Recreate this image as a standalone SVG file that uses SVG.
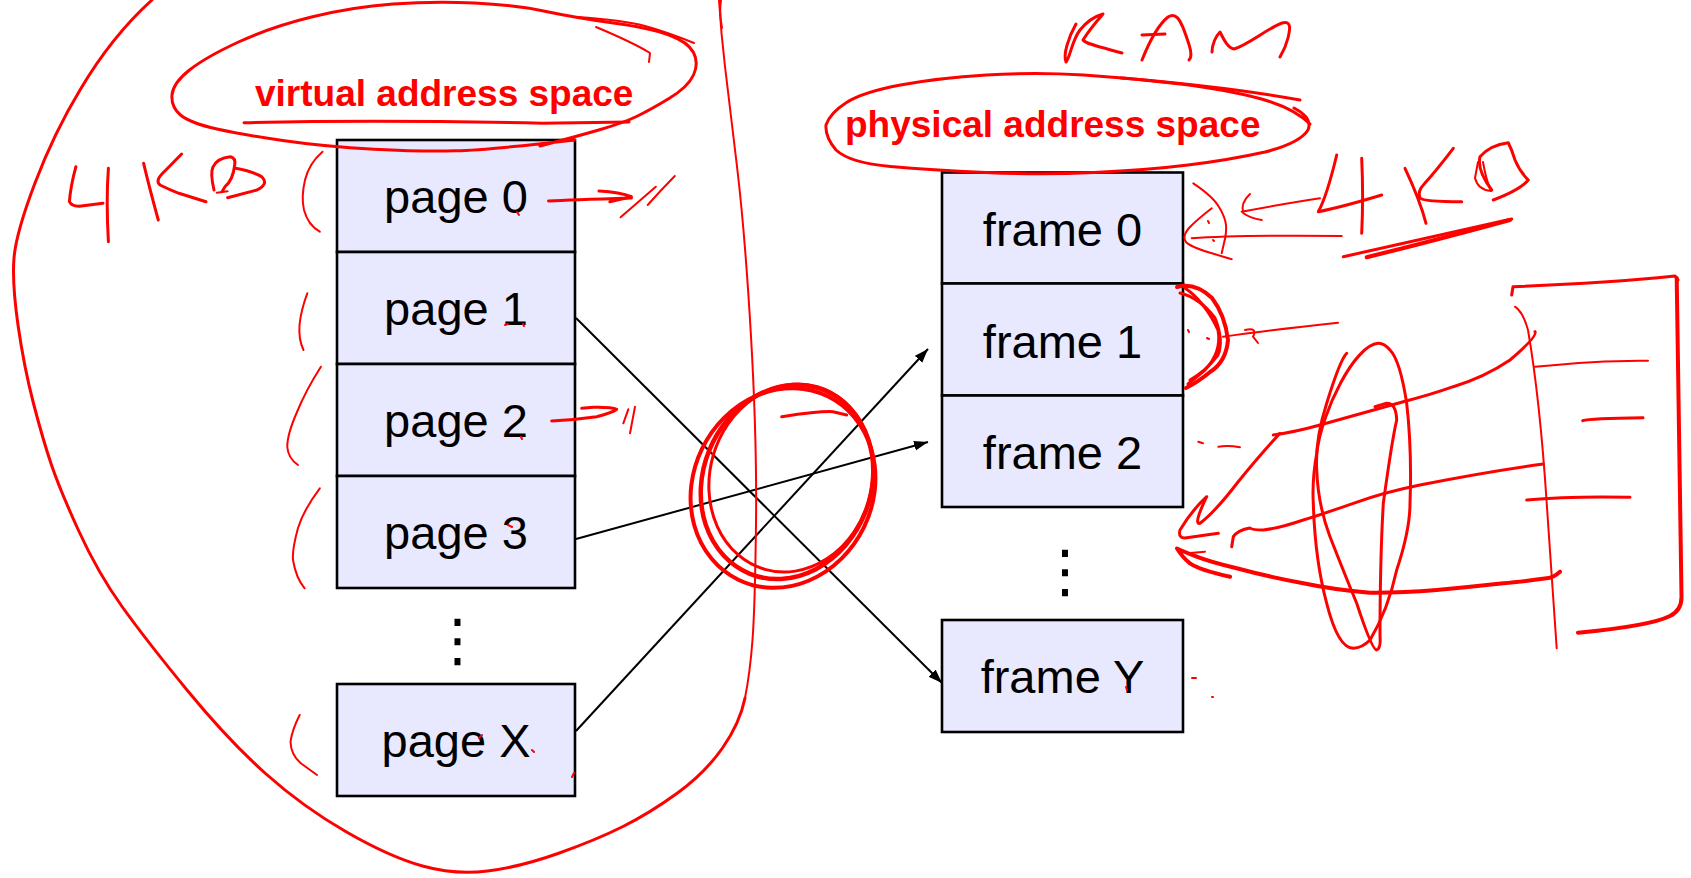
<svg xmlns="http://www.w3.org/2000/svg" width="1691" height="878" viewBox="0 0 1691 878">
<defs>
<marker id="ah" markerUnits="userSpaceOnUse" markerWidth="15" markerHeight="11" refX="14" refY="5" orient="auto">
<path d="M0,0 L14,5 L0,10 z" fill="#000"/>
</marker>
<style>
.box{fill:#E8E8FF;stroke:#000;stroke-width:2.6}
.lbl{font-family:"Liberation Sans",Arial,sans-serif;font-size:47px;fill:#000;text-anchor:middle}
.dots{font-family:"DejaVu Sans",sans-serif;font-size:58px;fill:#000;text-anchor:middle}
.title{font-family:"Liberation Sans",Arial,sans-serif;font-weight:bold;font-size:37px;fill:#FF0000}
.conn{stroke:#000;stroke-width:2;fill:none;marker-end:url(#ah)}
.ink{fill:none;stroke:#FF0000;stroke-linecap:round;stroke-linejoin:round;stroke-width:3}
.t2{stroke-width:2}
.t4{stroke-width:4}
.t5{stroke-width:4.5}
</style>
</defs>
<rect width="1691" height="878" fill="#fff"/>

<g id="virtual-space">
<g id="page0"><rect class="box" x="337" y="140" width="238" height="112"/><text class="lbl" x="456" y="213">page 0</text></g>
<g id="page1"><rect class="box" x="337" y="252" width="238" height="112"/><text class="lbl" x="456" y="325">page 1</text></g>
<g id="page2"><rect class="box" x="337" y="364" width="238" height="112"/><text class="lbl" x="456" y="437">page 2</text></g>
<g id="page3"><rect class="box" x="337" y="476" width="238" height="112"/><text class="lbl" x="456" y="549">page 3</text></g>
<g id="pagedots"><text class="dots" x="457.5" y="660">⋮</text></g>
<g id="pageX"><rect class="box" x="337" y="684" width="238" height="112"/><text class="lbl" x="456" y="757">page X</text></g>
</g>

<g id="physical-space">
<g id="frame0"><rect class="box" x="942" y="172.5" width="241" height="111"/><text class="lbl" x="1062.5" y="246">frame 0</text></g>
<g id="frame1"><rect class="box" x="942" y="283.5" width="241" height="112"/><text class="lbl" x="1062.5" y="358">frame 1</text></g>
<g id="frame2"><rect class="box" x="942" y="395.5" width="241" height="111.5"/><text class="lbl" x="1062.5" y="469">frame 2</text></g>
<g id="framedots"><text class="dots" x="1065" y="591">⋮</text></g>
<g id="frameY"><rect class="box" x="942" y="620" width="241" height="112"/><text class="lbl" x="1062.5" y="693">frame Y</text></g>
</g>

<g id="titles">
<text class="title" x="255" y="106">virtual address space</text>
<text class="title" x="845" y="137">physical address space</text>
</g>

<g id="connectors">
<path class="conn" d="M576,318 L942,683"/>
<path class="conn" d="M576,539 L928,442"/>
<path class="conn" d="M576,731 L928,349"/>
</g>

<g id="annotations">
<!-- big loop around virtual space -->
<path class="ink" d="M152,0 Q112,36 80,90 Q54,133 35,183 Q16,233 14,258 Q12,283 18,325 Q24,367 33.5,403.5 Q43,440 51.5,465 Q60,490 79,531.5 Q98,573 122,606.5 Q146,640 187,690 Q228,740 265.5,773.5 Q303,807 346.5,832 Q390,857 422.5,866 Q455,875 487.5,871 Q520,867 558,853.5 Q596,840 623,826.5 Q650,813 677.5,793 Q705,773 722.5,748 Q740,723 745,698"/>
<path class="ink t2" d="M745,698 Q750,673 752.5,640 Q755,607 756,523.5 Q757,440 751,336.5 Q745,233 737,166.5 Q729,100 725,66.5 Q721,33 719,0"/>
<path class="ink t2" d="M722,28 Q719,12 721,0"/>
<!-- ellipse around virtual title -->
<path class="ink" d="M574.5,140 Q488,150 455.5,150.8 Q423,151.7 374,149.2 Q325,146.7 284.5,140.8 Q244,135 217,129 Q190,123 180.5,115 Q171,107 172,95 Q173,83 189.5,70 Q206,57 238.5,42 Q271,27 311.5,17 Q352,7 393,4 Q434,1 474.5,3 Q515,5 546,11.5 Q577,18 613.5,23 Q650,28 669,35 Q688,42 693.5,52.5 Q699,63 693.5,75 Q688,87 669,98.5 Q650,110 636.5,116.5 Q623,123 598.75,130 Q574.5,137 540,146"/>
<path class="ink t2" d="M577,17 Q623,20 645,26 Q667,32 694,43"/>
<path class="ink t2" d="M596,27 Q634,43 650,53 L649,62"/>
<path class="ink" d="M244,122.7 Q379,119.5 542,123.3 L629,122"/>
<!-- left 4KB -->
<path class="ink" d="M75.9,166.7 Q70.5,186.7 69.4,201.7 Q72,207 81.3,206 L103,203.3"/>
<path class="ink" d="M108.4,168.3 Q106,200 108.4,241.7"/>
<path class="ink" d="M143.6,163.3 Q150,190 158.3,220"/>
<path class="ink" d="M181.6,154 Q168,168 162.6,173.3 Q155,181 160,185 Q170,190 178.9,193.3 L206,201.7"/>
<path class="ink" d="M214,190 Q210,173 213,167 Q217,158 230.4,156.7 Q236,158 234.7,165 Q233,180 225,186.7 L222,191.7"/>
<path class="ink" d="M235.8,168.3 Q255,172 262,177 Q269,184 257,190 L227.6,197.7"/>
<path class="ink t2" d="M216.8,192.7 L227.6,191.3"/>
<!-- left brackets -->
<path class="ink t2" d="M322.5,151.7 Q309,163.3 305,180 Q301,197 304,210 Q308,225 319.8,231.7"/>
<path class="ink t2" d="M307.3,293.3 Q301,310 299.5,325 Q298.5,340 303.5,350"/>
<path class="ink t2" d="M320.9,366.7 Q306,390 297,412 Q287,435 287.3,447 Q288,458 298,465"/>
<path class="ink t2" d="M319.8,488.3 Q303.5,510 298,528 Q292,550 293,560 Q296,578 304.6,588.3"/>
<path class="ink t2" d="M299.7,715 Q292,730 290.5,742 Q291,755 300.8,763.3 L317,775"/>
<!-- page 0 / page 2 marks -->
<path class="ink" d="M548.5,201 Q569,200 631.4,198"/>
<path class="ink" d="M599,191 Q620,192 631.4,196.7 L609.8,201.7"/>
<path class="ink t2" d="M620.6,217.3 Q637,203 655.8,186.7"/>
<path class="ink t2" d="M647.7,205 Q661,190 674.8,176"/>
<path class="ink" d="M551.7,421 Q573.3,420 596.7,416.7 Q612,413 616.7,409.3 Q612,407 593.3,407.3 L581.7,408.3"/>
<path class="ink t2" d="M628.3,409.3 L623.3,423.3"/>
<path class="ink t2" d="M635,406.7 L630,433.3"/>
<!-- tiny marks on labels -->
<path class="ink t2" d="M517,212 L519,215"/>
<path class="ink t2" d="M505,325 L508,324"/>
<path class="ink t2" d="M523,324 L524,326"/>
<path class="ink t2" d="M521,437 L522,439"/>
<path class="ink t2" d="M508,525 L512,527"/>
<path class="ink t2" d="M479,738 L482,735"/>
<path class="ink t2" d="M532,750 L534,752"/>
<path class="ink t2" d="M572,777 L574,773"/>
<path class="ink t2" d="M1126,687 L1127,690"/>
<path class="ink t2" d="M1192,678 L1196,678"/>
<path class="ink t2" d="M1212,697 L1213,697"/>
<!-- middle circle -->
<ellipse class="ink t5" cx="787" cy="482" rx="84" ry="99" transform="rotate(22 787 482)"/>
<ellipse class="ink t4" cx="783" cy="488" rx="90" ry="102" transform="rotate(26 783 488)"/>
<ellipse class="ink" cx="791" cy="478" rx="81" ry="95" transform="rotate(16 791 478)"/>
<path class="ink" d="M781.7,416.7 Q820,411 833,411.7 L846.7,415"/>
<!-- RAM -->
<path class="ink" d="M1076,24 C1068,38 1063,55 1066,62 C1070,58 1072,40 1080,30 C1088,20 1096,16 1103,14 C1096,22 1088,32 1083,40 C1086,44 1100,47 1122,53"/>
<path class="ink" d="M1142,60 C1148,45 1158,25 1168,17 C1176,12 1180,20 1184,30 C1188,42 1194,55 1189,60"/>
<path class="ink" d="M1142,35 L1165,34"/>
<path class="ink" d="M1212,52 C1212,44 1216,36 1220,32 C1224,40 1228,48 1234,49 C1248,45 1268,28 1282,23 C1292,20 1290,30 1288,38 C1286,46 1283,52 1280,57"/>
<!-- ellipse around physical title -->
<path class="ink" d="M1294,108 Q1313,118 1308,130 Q1300,143 1265,152 Q1229,160 1188,165 Q1148,170 1094,172.5 Q1040,175 985.5,172.5 Q931,170 890.5,166.5 Q850,163 836,150 Q825,137 826,125 Q830,113 846.5,102.5 Q863,92 900.5,85 Q938,78 986.5,75 Q1035,72 1083.5,75 Q1132,78 1180.5,84 Q1229,90 1261.5,99 Q1294,108 1310,124"/>
<path class="ink" d="M1121,78 Q1229,87 1300,100"/>
<!-- right 4KB -->
<path class="ink t2" d="M1193.3,183.3 Q1213.3,196.7 1219,207 Q1225,216.7 1226,225 Q1226.7,233.3 1224,243 L1221.7,253.3"/>
<path class="ink t2" d="M1211.7,208.3 Q1196.7,220 1189,228 Q1181.7,236.7 1186,242 Q1190,246.7 1211,253 L1231.7,259.3"/>
<path class="ink t2" d="M1191.7,238.3 Q1236.7,235 1341.7,236"/>
<path class="ink t2" d="M1250,194 Q1240,203.3 1243.3,213.3 Q1250,218 1261.7,220"/>
<path class="ink t2" d="M1241.7,211.7 Q1286.7,203.3 1320,198.3"/>
<path class="ink" d="M1336.7,155 Q1326.7,196.7 1318.3,211.7 Q1343.3,206.7 1381.7,195"/>
<path class="ink" d="M1361.7,158.3 Q1363.5,196.7 1361.7,233.3"/>
<path class="ink" d="M1405,168.3 Q1420,200 1426,223.3"/>
<path class="ink" d="M1453.3,148.3 Q1436.7,170 1425,183 Q1416.7,191.7 1420,198 Q1423.3,201.7 1461.7,201.7"/>
<path class="ink" d="M1491.7,190 Q1476.7,170 1480,156.7 Q1490,145 1508.3,142.7 Q1512,150 1515,160 Q1520,172 1528.3,180 Q1520,190 1493.3,200"/>
<path class="ink t2" d="M1483,162 Q1486,180 1491,191 Q1478,190 1475,178 L1478,162"/>
<path class="ink" d="M1343.3,256.7 Q1403.3,243.3 1511.7,219"/>
<path class="ink t4" d="M1366.7,257.3 Q1436.7,240 1510,220"/>
<path class="ink t2" d="M1208,221 L1209,223"/>
<path class="ink t2" d="M1213,240 L1214,241"/>
<!-- frame 1 bracket and arrow -->
<path class="ink t4" d="M1177,287 Q1195,282 1212,298 Q1225,315 1228,340 Q1226,362 1210,372 Q1198,382 1186,388"/>
<path class="ink" d="M1180,293 Q1200,298 1215,318 Q1224,340 1218,355 Q1205,372 1190,380"/>
<path class="ink" d="M1185,288 Q1205,302 1218,330 Q1222,352 1205,370 L1188,384"/>
<path class="ink t2" d="M1223,336.7 Q1270,330 1338,322.7"/>
<path class="ink t2" d="M1245,330 Q1258,327 1253,336.7 L1258,343"/>
<path class="ink t2" d="M1188,330 L1189,332"/>
<path class="ink t2" d="M1207,338 L1209,339"/>
<!-- frame 2 small marks -->
<path class="ink t2" d="M1198.3,441.7 L1203,443.3"/>
<path class="ink t2" d="M1218.3,446.7 Q1228,445 1240,447.3"/>
<!-- table on right -->
<path class="ink" d="M1511.7,295 L1513,286.7 Q1603,283.3 1675,276 L1678,280"/>
<path class="ink t4" d="M1676.7,278 L1681.5,596 Q1682,610 1670,616 Q1650,626 1578,632.7"/>
<path class="ink t2" d="M1515,306.7 Q1523,312 1528,330 Q1540,400 1546.7,503 L1556.7,648.3"/>
<path class="ink t2" d="M1535,366.7 Q1603,360 1648,360.7"/>
<path class="ink" d="M1582.7,420.7 Q1590,418.3 1643,417.7"/>
<path class="ink" d="M1526.7,500 Q1570,496 1630,497.3"/>
<path class="ink" d="M1378,343.3 C1355,345 1322,410 1316.7,453.3 Q1312,480 1313.3,503.3 Q1315,560 1326.7,603.3 Q1338,648 1353.3,648.3 Q1362,648 1370,640 Q1388,610 1396.7,570 Q1410,530 1410,503.3 Q1412,450 1406.7,403.3 Q1400,360 1390,350 Q1384,343 1378,343.3"/>
<path class="ink" d="M1346.7,353.3 Q1340,360 1326.7,403.3 Q1315,440 1316.7,470 Q1318,505 1330,536.7 Q1345,575 1356.7,603.3 Q1372,650 1376.7,650 Q1381,648 1380,636.7 Q1380,560 1383.3,503.3 Q1392,440 1396.7,420 Q1396,403 1386.7,403.3 L1375,406.7"/>
<path class="ink" d="M1535,331.7 Q1538,336 1510,360 Q1485,377 1453.3,386.7 Q1430,395 1403.3,401.7 Q1360,414 1320,425 Q1295,432 1273.3,435"/>
<path class="ink" d="M1280,433.3 Q1260,455 1238,482 Q1215,512 1200,523.3 Q1193,525 1206.7,496.7 Q1192,510 1180,530 Q1178,538 1185,538 L1218.3,533.3"/>
<path class="ink" d="M1543.3,464 Q1486.7,471.7 1420,485 Q1385,492 1353.3,503.3 Q1320,515 1303.3,520 Q1280,528 1263.3,530 Q1252,530 1250,528 Q1238,530 1233.3,536.7 L1231.7,546.7"/>
<path class="ink t4" d="M1560,571.7 Q1553,578 1546.7,578.3 Q1520,582 1503.3,583.3 Q1470,587 1436.7,590 Q1400,593 1370,592.7 Q1335,590 1303.3,583.3 Q1265,576 1236.7,568.3 Q1210,562 1196.7,556.7 Q1182,551 1177,548.5 Q1183,558 1190,563.3 Q1200,570 1230,576.7"/>
<path class="ink t2" d="M1190,553 L1205,551.7"/>
</g>
</svg>
